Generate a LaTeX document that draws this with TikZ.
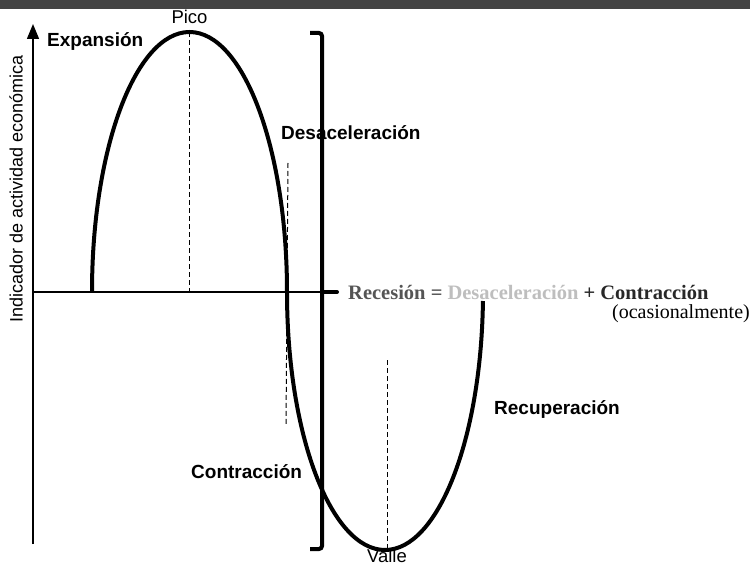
\documentclass[tikz,border=0pt]{standalone}
\usepackage{fontspec}
\setmainfont{Liberation Serif}
\setsansfont{Liberation Sans}
\usepackage{xcolor}
\definecolor{topbar}{RGB}{68,68,68}
\definecolor{recgray}{RGB}{85,85,85}
\definecolor{desgray}{RGB}{190,190,190}
\definecolor{condark}{RGB}{40,40,40}
\usetikzlibrary{arrows.meta,positioning}

\tikzset{
  axisline/.style={line width=1.5pt},
  cycleline/.style={line width=4pt},
  guideline/.style={line width=1pt,dash pattern=on 5pt off 3pt},
  phaselabel/.style={font=\sffamily\bfseries\fontsize{19}{21}\selectfont,inner sep=0pt},
  pointlabel/.style={font=\sffamily\fontsize{18.5}{20}\selectfont,inner sep=0pt}
}

\begin{document}
\begin{tikzpicture}[x=1pt,y=-1pt]
  \useasboundingbox (0,0) rectangle (750,567);
  \fill[topbar] (0,0) rectangle (750,9);

  % axes
  \coordinate (origin) at (33,292);
  \coordinate (ytop) at (33,24);
  \coordinate (ybot) at (33,544);
  \coordinate (xend) at (322,292);
  \draw[axisline,-{Triangle[width=12pt,length=15pt]}] (ybot) -- (ytop);
  \draw[axisline] (origin) -- (xend);
  \node[rotate=90,font=\sffamily\fontsize{18}{20}\selectfont,inner sep=0pt]
    (ylabel) at (16,189) {Indicador de actividad económica};

  % cycle
  \coordinate (start) at (92,292);
  \coordinate (peak) at (189.5,32);
  \coordinate (cross) at (287,292);
  \coordinate (valley) at (385,550);
  \draw[cycleline] (start)
    arc[start angle=180,end angle=360,x radius=97.5,y radius=260]
    arc[start angle=180,end angle=2,x radius=98,y radius=258];

  % guides
  \coordinate (peakfoot) at (189.5,292);
  \coordinate (desctop) at (288,163);
  \coordinate (descbot) at (286,424);
  \coordinate (valleytop) at (387,360);
  \draw[guideline] (peak) -- (peakfoot);
  \draw[guideline] (desctop) -- (descbot);
  \draw[guideline] (valleytop) -- (valley -| valleytop);

  % bracket
  \coordinate (brtop) at (310,33);
  \coordinate (brbot) at (310,549);
  \coordinate (brtip) at (337,292);
  \draw[cycleline,rounded corners=3pt] (brtop) -- (322,33) -- (322,549) -- (brbot);
  \draw[line width=4pt,line cap=round] (xend) -- (brtip);

  % labels
  \node[pointlabel] (pico) at (189.5,17) {Pico};
  \node[pointlabel] (valle) at (387,556) {Valle};
  \node[phaselabel,anchor=west] (expansion) at (47,42) {Expansión};
  \node[phaselabel,anchor=west] (desac) at (281,133) {Desaceleración};
  \node[phaselabel,anchor=west] (recup) at (494,410) {Recuperación};
  \node[phaselabel,anchor=west] (contr) at (191,472) {Contracción};
  \node[anchor=west,inner sep=0pt,font=\rmfamily\bfseries\fontsize{20.5}{22}\selectfont]
    (recesion) at (348,292)
    {\textcolor{recgray}{Recesión =} \textcolor{desgray}{Desaceleración} \textcolor{condark}{+ Contracción}};
  \node[anchor=east,inner sep=0pt,font=\rmfamily\fontsize{20}{22}\selectfont]
    (ocasional) at (750,314) {(ocasionalmente)};
\end{tikzpicture}
\end{document}
